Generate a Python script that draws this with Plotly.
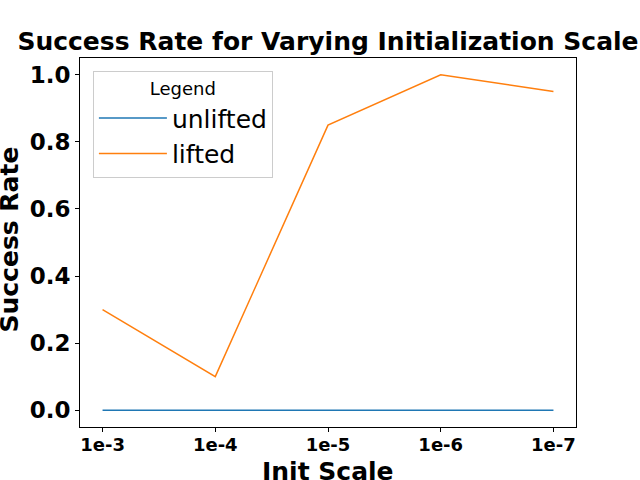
import plotly.graph_objects as go

scales = ["1e-3", "1e-4", "1e-5", "1e-6", "1e-7"]
unlifted = [0.0, 0.0, 0.0, 0.0, 0.0]
lifted = [0.3, 0.1, 0.85, 1.0, 0.95]

fig = go.Figure()
fig.add_trace(go.Scatter(x=list(range(len(scales))), y=unlifted, mode="lines",
                         name="unlifted", line=dict(color="#1f77b4", width=1.5)))
fig.add_trace(go.Scatter(x=list(range(len(scales))), y=lifted, mode="lines",
                         name="lifted", line=dict(color="#ff7f0e", width=1.5)))

fig.update_layout(
    width=640, height=480,
    margin=dict(l=80, r=64, t=58, b=53),
    plot_bgcolor="white", paper_bgcolor="white",
    font=dict(family="DejaVu Sans", color="black"),
    title=dict(text="<b>Success Rate for Varying Initialization Scale</b>",
               font=dict(size=25), x=0.5125, xanchor="center",
               y=0.915, yanchor="middle"),
    legend=dict(x=0.026, y=0.965, xanchor="left", yanchor="top",
                bordercolor="#cccccc", borderwidth=1,
                font=dict(size=25), itemwidth=68,
                title=dict(text="Legend", font=dict(size=18), side="top center")),
)

# axis titles as annotations so they sit where matplotlib put them
fig.add_annotation(text="<b>Init Scale</b>", xref="paper", yref="paper",
                   x=0.5, y=0, xanchor="center", yanchor="middle",
                   yshift=-44, showarrow=False, font=dict(size=25))
fig.add_annotation(text="<b>Success Rate</b>", xref="paper", yref="paper",
                   x=0, y=0.5, xanchor="center", yanchor="middle", textangle=-90,
                   xshift=-71, yshift=3, showarrow=False, font=dict(size=25))

fig.update_xaxes(
    range=[-0.2, 4.2], tickvals=list(range(len(scales))), ticktext=scales,
    tickfont=dict(size=18, weight="bold"), automargin=False, ticklabelstandoff=-3,
    showgrid=False, zeroline=False, showline=True, mirror=True,
    linecolor="black", linewidth=1, ticks="outside", ticklen=4, tickcolor="black",
)
fig.update_yaxes(
    range=[-0.05, 1.05], tickvals=[0, 0.2, 0.4, 0.6, 0.8, 1.0],
    tickformat=".1f", tickfont=dict(size=23, weight="bold"), automargin=False,
    showgrid=False, zeroline=False, showline=True, mirror=True,
    linecolor="black", linewidth=1, ticks="outside", ticklen=4, tickcolor="black",
)

# drop the browser's default 8px body margin so the figure fills the window
fig.write_html("out.html", config={"displayModeBar": False},
               post_script="document.body.style.margin = '0';")
